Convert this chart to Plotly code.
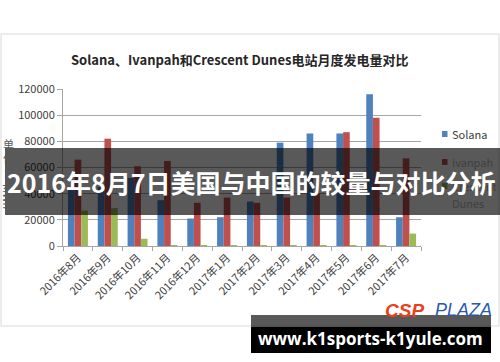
import plotly.graph_objects as go

months = ["2016年8月", "2016年9月", "2016年10月", "2016年11月", "2016年12月", "2017年1月",
          "2017年2月", "2017年3月", "2017年4月", "2017年5月", "2017年6月", "2017年7月"]
solana = [43000, 45000, 52000, 35000, 21000, 22000, 34000, 79000, 86000, 86000, 116000, 22000]
ivanpah = [66000, 82000, 61000, 65000, 33000, 37000, 33000, 37000, 40000, 87000, 98000, 67000]
crescent = [27000, 29000, 5500, 600, 400, 300, 300, 400, 500, 500, 600, 9500]
yticks = [0, 20000, 40000, 60000, 80000, 100000, 120000]

title = "Solana、Ivanpah和Crescent Dunes电站月度发电量对比"
banner = "2016年8月7日美国与中国的较量与对比分析"
site = "www.k1sports-k1yule.com"

WIDTH, HEIGHT = 500, 362
L, R, T, B = 63, 421, 89, 246
PW, PH = R - L, B - T


def px(x):
    return (x - L) / PW


def py(y):
    return (B - y) / PH


FONT = "Noto Sans CJK SC, Open Sans, sans-serif"
C_SOL, C_IVA, C_CD = "#4F81BD", "#C0504D", "#9BBB59"

fig = go.Figure()
for name, vals, col in [("Solana", solana, C_SOL), ("Ivanpah", ivanpah, C_IVA),
                        ("Crescent Dunes", crescent, C_CD)]:
    fig.add_trace(go.Bar(x=months, y=vals, name=name, marker=dict(color=col, line=dict(width=0))))

shapes = []
annotations = []

# outer chart border
shapes.append(dict(type="rect", xref="paper", yref="paper", x0=px(1), x1=px(499), y0=py(326), y1=py(34),
                   line=dict(color="#d9d9d9", width=1), fillcolor="rgba(0,0,0,0)", layer="below"))

# chart title
annotations.append(dict(text="<b>" + title + "</b>", xref="paper", yref="paper", x=px(239), y=py(59),
                        showarrow=False, font=dict(family=FONT, size=13, color="#262626"),
                        xanchor="center", yanchor="middle"))

# y axis title (stacked)
annotations.append(dict(text="单<br>位<br>：", xref="paper", yref="paper", x=px(8), y=py(158),
                        showarrow=False, font=dict(family=FONT, size=11, color="#595959"),
                        xanchor="center", yanchor="middle"))
annotations.append(dict(text="MWh", xref="paper", yref="paper", x=px(8), y=py(196), textangle=90,
                        showarrow=False, font=dict(family=FONT, size=11, color="#595959"),
                        xanchor="center", yanchor="middle"))

# legend
leg = [("Solana", C_SOL, 134), ("Ivanpah", C_IVA, 162), ("Crescent", C_CD, 186)]
for name, col, yy in leg:
    shapes.append(dict(type="rect", xref="paper", yref="paper", x0=px(442), x1=px(447.5),
                       y0=py(yy + 3), y1=py(yy - 3), line=dict(width=0), fillcolor=col))
    annotations.append(dict(text=name, xref="paper", yref="paper", x=px(450), y=py(yy),
                            showarrow=False, font=dict(family=FONT, size=11, color="#404040"),
                            xanchor="left", yanchor="middle"))
annotations.append(dict(text="Dunes", xref="paper", yref="paper", x=px(450), y=py(203),
                        showarrow=False, font=dict(family=FONT, size=11, color="#404040"),
                        xanchor="left", yanchor="middle"))

# CSP PLAZA logo
annotations.append(dict(text="<b><i>CSP</i></b>", xref="paper", yref="paper", x=px(383), y=py(310),
                        showarrow=False, font=dict(family="Liberation Sans, sans-serif", size=19, color="#E8401C"),
                        xanchor="left", yanchor="middle"))
annotations.append(dict(text="<i>PLAZA</i>", xref="paper", yref="paper", x=px(433), y=py(310),
                        showarrow=False, font=dict(family="Liberation Sans, sans-serif", size=18, color="#2B5BA8"),
                        xanchor="left", yanchor="middle"))

# dark banner
shapes.append(dict(type="rect", xref="paper", yref="paper", x0=px(5), x1=px(500), y0=py(215), y1=py(148),
                   line=dict(width=0), fillcolor="rgba(0,0,0,0.65)", layer="above"))
annotations.append(dict(text="<b>" + banner + "</b>", xref="paper", yref="paper", x=px(251), y=py(182),
                        showarrow=False, font=dict(family=FONT, size=25, color="white"),
                        xanchor="center", yanchor="middle"))

# bottom site box
shapes.append(dict(type="rect", xref="paper", yref="paper", x0=px(251), x1=px(491), y0=py(327), y1=py(315),
                   line=dict(width=0), fillcolor="rgba(0,0,0,0.65)", layer="above"))
shapes.append(dict(type="rect", xref="paper", yref="paper", x0=px(251), x1=px(491), y0=py(353), y1=py(327),
                   line=dict(width=0), fillcolor="black", layer="above"))
annotations.append(dict(text="<b>" + site + "</b>", xref="paper", yref="paper", x=px(370), y=py(338),
                        showarrow=False, font=dict(family="Open Sans, sans-serif", size=17, color="white"),
                        xanchor="center", yanchor="middle"))

fig.update_layout(
    width=WIDTH, height=HEIGHT,
    margin=dict(l=L, r=WIDTH - R, t=T, b=HEIGHT - B),
    paper_bgcolor="white", plot_bgcolor="white",
    barmode="group", bargap=0.33, bargroupgap=0,
    showlegend=False,
    shapes=shapes, annotations=annotations,
    font=dict(family=FONT, color="#404040"),
    xaxis=dict(type="category", tickangle=-45, tickfont=dict(size=11, color="#404040"),
               showline=True, linecolor="#a6a6a6", ticks="outside", tickson="boundaries",
               ticklen=4, tickcolor="#a6a6a6", showgrid=False),
    yaxis=dict(range=[0, 120000], tickvals=yticks, ticktext=[str(v) for v in yticks],
               tickfont=dict(size=11, color="#404040"), showline=True, linecolor="#a6a6a6",
               ticks="outside", ticklen=5, tickcolor="#a6a6a6",
               showgrid=True, gridcolor="#a6a6a6", gridwidth=1, zeroline=False),
)

fig.write_html("out.html")
